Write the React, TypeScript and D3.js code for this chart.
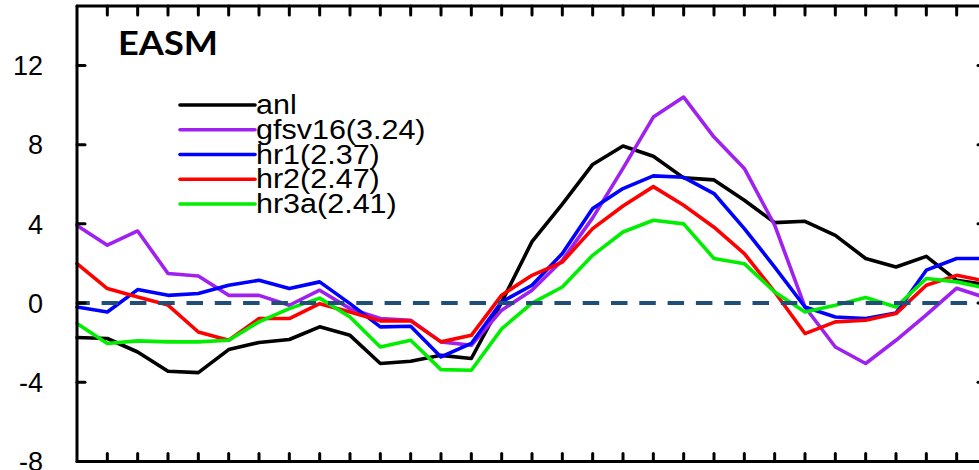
import React from 'react';
import * as d3 from 'd3';

const steps = [0,1,2,3,4,5,6,7,8,9,10,11,12,13,14,15,16,17,18,19,20,21,22,23,24,25,26,27,28,29,30];
const anl = [-1.74,-1.79,-2.47,-3.44,-3.51,-2.35,-1.99,-1.84,-1.2,-1.63,-3.05,-2.94,-2.64,-2.8,0.05,3.1,5.0,7.0,7.93,7.41,6.32,6.22,5.19,4.06,4.13,3.42,2.25,1.82,2.36,1.15,0.92];
const gfsv16 = [3.92,2.92,3.64,1.49,1.37,0.39,0.39,-0.11,0.65,-0.28,-0.78,-0.87,-1.96,-2.13,-0.36,0.65,2.16,4.3,6.8,9.39,10.4,8.38,6.8,3.93,-0.2,-2.22,-3.05,-1.88,-0.6,0.75,0.25];
const hr1 = [-0.2,-0.45,0.68,0.39,0.48,0.9,1.15,0.73,1.07,-0.03,-1.2,-1.17,-2.72,-2.04,0.06,0.9,2.5,4.77,5.78,6.42,6.35,5.53,3.76,1.82,-0.2,-0.7,-0.78,-0.5,1.66,2.25,2.25];
const hr2 = [1.99,0.73,0.31,-0.1,-1.46,-1.88,-0.78,-0.78,-0.03,-0.45,-0.9,-0.9,-1.96,-1.63,0.4,1.4,2.07,3.76,4.9,5.88,4.94,3.83,2.5,0.56,-1.54,-0.95,-0.87,-0.53,0.9,1.4,1.1];
const hr3a = [-1.03,-2.04,-1.91,-1.96,-1.96,-1.88,-0.95,-0.28,0.25,-0.7,-2.22,-1.88,-3.36,-3.39,-1.3,0.0,0.81,2.41,3.59,4.18,4.0,2.25,1.99,0.56,-0.45,-0.11,0.28,-0.2,1.24,1.07,0.75];

const seriesNames = ['anl', 'gfsv16(3.24)', 'hr1(2.37)', 'hr2(2.47)', 'hr3a(2.41)'];
const seriesValues = [anl, gfsv16, hr1, hr2, hr3a];
const seriesColors = ['#000000', '#A020F0', '#0000FF', '#FF0000', '#00EE00'];
const yTicks = [-8, -4, 0, 4, 8, 12];
const title = 'EASM';

export default function App() {
  const W = 979, H = 470;
  const x = d3.scaleLinear().domain([0, 30]).range([77, 987]);
  const y = d3.scaleLinear().domain([-8, 15]).range([461.5, 6]);
  const line = d3.line<number>().x((d, i) => x(steps[i])).y(d => y(d));
  const left = x(0), right = x(30), top = y(15), bottom = y(-8);
  const xTickIdx = steps.filter(s => s > 0 && s < 30);
  const legendX0 = 180, legendX1 = 255, legendY0 = 105, legendDY = 24.75;

  return (
    <svg width={W} height={H} style={{ position: 'absolute', left: 0, top: 0, background: '#fff' }}
      fontFamily="'Liberation Sans', Arial, Helvetica, sans-serif">
      <rect x={0} y={0} width={W} height={H} fill="#fff" />
      {seriesValues.map((vals, k) => (
        <path key={k} d={line(vals) || ''} fill="none" stroke={seriesColors[k]} strokeWidth={3.6}
          strokeLinejoin="round" strokeLinecap="round" />
      ))}
      <line x1={left} x2={W + 20} y1={y(0)} y2={y(0)} stroke="#1F4E79" strokeWidth={4}
        strokeDasharray="16.5 11.8" strokeDashoffset={3.7} />
      {/* frame */}
      <g stroke="#000" strokeWidth={3} strokeLinecap="round" fill="none">
        <line x1={left} x2={left} y1={top} y2={bottom} />
        <line x1={right} x2={right} y1={top} y2={bottom} />
        <line x1={left} x2={right} y1={top} y2={top} />
        <line x1={left} x2={right} y1={bottom} y2={bottom} />
        {xTickIdx.map(s => (
          <g key={s}>
            <line x1={x(s)} x2={x(s)} y1={top} y2={top + 9} />
            <line x1={x(s)} x2={x(s)} y1={bottom} y2={bottom - 8} />
          </g>
        ))}
        {yTicks.filter(t => t > -8).map(t => (
          <g key={t}>
            <line x1={left} x2={left + 8} y1={y(t)} y2={y(t)} />
            <line x1={right} x2={right - 9} y1={y(t)} y2={y(t)} />
          </g>
        ))}
      </g>
      {yTicks.map(t => (
        <text key={t} x={43} y={y(t)} dy="0.36em" textAnchor="end" fontSize={27} fill="#000">{t}</text>
      ))}
      <text x={118} y={55} fontFamily="Lato, 'Open Sans', sans-serif" fontWeight="bold" fontSize={32}
        textLength={100} lengthAdjust="spacingAndGlyphs" fill="#000">{title}</text>
      {seriesNames.map((name, k) => {
        const ly = legendY0 + k * legendDY;
        return (
          <g key={name}>
            <line x1={legendX0} x2={legendX1} y1={ly} y2={ly} stroke={seriesColors[k]} strokeWidth={3.6} strokeLinecap="round" />
            <text transform={`translate(${legendX1 + 1},${ly + 9}) scale(1.13,1)`} fontSize={27} fill="#000">{name}</text>
          </g>
        );
      })}
    </svg>
  );
}
